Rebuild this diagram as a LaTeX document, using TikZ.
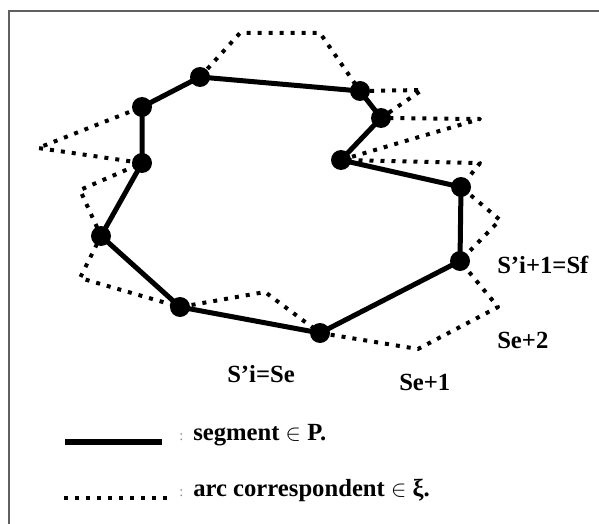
\documentclass[tikz,border=0pt]{standalone}
\usepackage{fontspec}
\setmainfont{Liberation Serif}
\usepackage{xcolor}
\usepackage{tikz}
\definecolor{SketchInk}{HTML}{000000}
\definecolor{SketchFrame}{HTML}{606060}
\definecolor{SketchMuted}{HTML}{888888}

\begin{document}
\begin{tikzpicture}[x=0.75pt,y=-0.75pt,
    vertex/.style={circle, fill=SketchInk, inner sep=0pt, minimum size=15pt},
    segline/.style={SketchInk, line width=3.75pt, line join=round},
    arcline/.style={SketchInk, line width=3pt, line join=round, dash pattern=on 3pt off 5.25pt},
    tag/.style={anchor=base west, inner sep=0pt, text=SketchInk, font=\fontsize{18.5pt}{22pt}\selectfont\bfseries}]
  \useasboundingbox (0,0) rectangle (599,524);
  % frame (only left and top edges visible)
  \draw[SketchFrame, line width=1.5pt] (9,524) -- (9,11) -- (599,11);
  % polygon vertices
  \foreach \n/\x/\y in {vA/200/77,vB/360/91,vC/381/118,vD/341/160,vE/461/187,vF/460/261,vG/320/333,vH/180/307,vI/101/236,vJ/142/163,vK/142/107} {
    \node[vertex] (\n) at (\x,\y) {};
  }
  % outer corners of the arc
  \foreach \n/\x/\y in {tA1/240/33,tA2/320/33,tB/422/90,tC/480/119,tD/480/163,tE/500/220,tF1/498/307,tF2/418/349,tG/265/292,tH/80/278,tI/80/190,tJ/38/148} {
    \coordinate (\n) at (\x,\y);
  }
  \draw[arcline] (vA.center) -- (tA1) -- (tA2) -- (vB.center) -- (tB) -- (vC.center) -- (tC) -- (vD.center)
    -- (tD) -- (vE.center) -- (tE) -- (vF.center) -- (tF1) -- (tF2) -- (vG.center) -- (tG) -- (vH.center)
    -- (tH) -- (vI.center) -- (tI) -- (vJ.center) -- (tJ) -- (vK.center);
  \draw[segline] (vA.center) -- (vB.center) -- (vC.center) -- (vD.center) -- (vE.center) -- (vF.center)
    -- (vG.center) -- (vH.center) -- (vI.center) -- (vJ.center) -- (vK.center) -- cycle;
  % labels
  \node[tag] (lSf) at (497,273) {S’i+1=Sf};
  \node[tag] (lSe2) at (497,348) {Se+2};
  \node[tag] (lSe1) at (399,390) {Se+1};
  \node[tag] (lSe) at (227,382) {S’i=Se};
  % legend
  \coordinate (kS1) at (65,442);
  \coordinate (kS2) at (162,442);
  \coordinate (kA1) at (64,498);
  \coordinate (kA2) at (168,498);
  \draw[SketchInk, line width=4.5pt] (kS1) -- (kS2);
  \draw[arcline] (kA1) -- (kA2);
  \foreach \n/\y/\txt in {kSeg/440/{segment $\in$ P.},kArc/496/{arc correspondent $\in$ ξ.}} {
    \node[tag, text=SketchMuted, font=\fontsize{11pt}{13pt}\selectfont] at (179,\y) {:};
    \node[tag] (\n) at (193,\y) {\txt};
  }
\end{tikzpicture}
\end{document}
